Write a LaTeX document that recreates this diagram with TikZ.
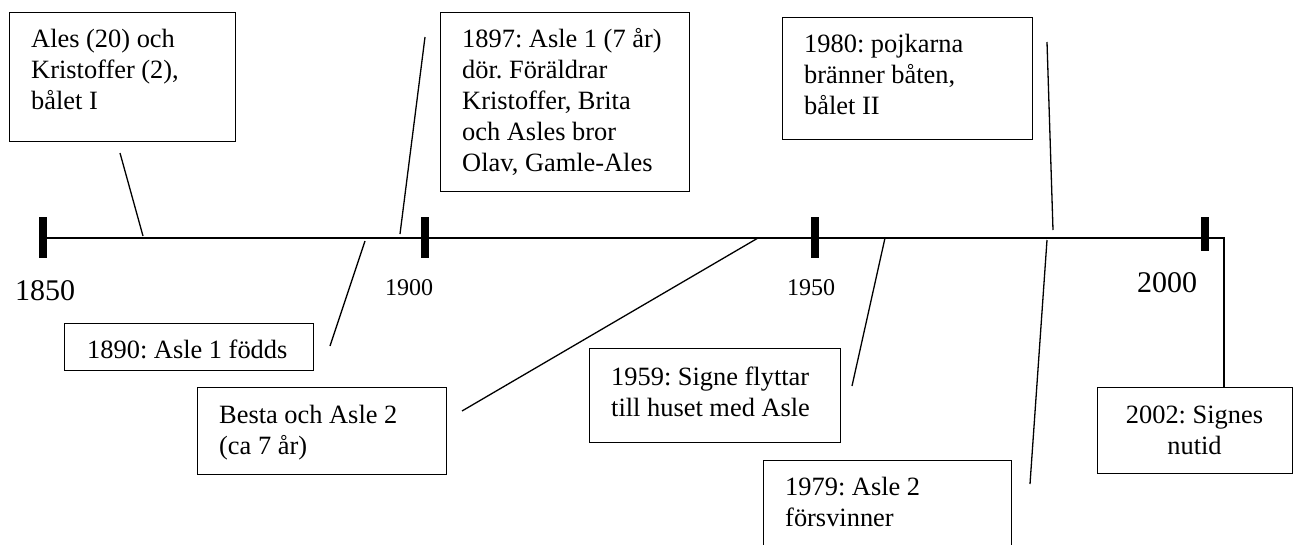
\documentclass[tikz,border=0pt]{standalone}
\usepackage{fontspec}
\setmainfont{Liberation Serif}
\frenchspacing
\begin{document}
\frenchspacing
\begin{tikzpicture}[x=1pt,y=-1pt,
  box/.style={draw, line width=1.2pt, inner sep=0pt, anchor=north west},
  txt/.style={anchor=base west, inner sep=0pt, font=\fontsize{26.4}{31}\selectfont},
  conn/.style={line width=1.3pt},
  tickmark/.style={fill=black, inner sep=0pt, minimum width=8pt, anchor=north},
  bigyear/.style={inner sep=0pt, font=\fontsize{30}{34}\selectfont},
  smallyear/.style={inner sep=0pt, font=\fontsize{24}{28}\selectfont, anchor=base}]
\useasboundingbox (0,0) rectangle (1296,544);
\clip (0,0) rectangle (1296,544);

% timeline ticks
\node[tickmark, minimum height=41pt] (k1850) at (43,217) {};
\node[tickmark, minimum height=41pt] (k1900) at (425,217) {};
\node[tickmark, minimum height=41pt] (k1950) at (815,217) {};
\node[tickmark, minimum height=34pt] (k2000) at (1205,217) {};
\coordinate (tStart) at (43,238);
\coordinate (tEnd) at (1224,238);

% year labels
\node[bigyear, anchor=base west] (y1850) at (15,300) {1850};
\node[smallyear] (y1900) at (409,295) {1900};
\node[smallyear] (y1950) at (811,295) {1950};
\node[bigyear, anchor=base west] (y2000) at (1137,292) {2000};

% boxes
\node[box, minimum width=226pt, minimum height=129pt] (bA) at (9,12) {};
\node[txt] (tA) at (31,47) {\parbox[t]{200pt}{\raggedright Ales (20) och\\Kristoffer (2),\\bålet I}};

\node[box, minimum width=249pt, minimum height=179pt] (b1897) at (440,12) {};
\node[txt] (t1897) at (462,47) {\parbox[t]{225pt}{\raggedright 1897: Asle 1 (7 år)\\dör. Föräldrar\\Kristoffer, Brita\\och Asles bror\\Olav, Gamle-Ales}};

\node[box, minimum width=250pt, minimum height=122pt] (b1980) at (782,17) {};
\node[txt] (t1980) at (804,52) {\parbox[t]{225pt}{\raggedright 1980: pojkarna\\bränner båten,\\bålet II}};

\node[box, minimum width=249pt, minimum height=47pt] (b1890) at (64,323) {};
\node[txt] (t1890) at (87,358) {1890: Asle 1 födds};

\node[box, minimum width=249pt, minimum height=87pt] (bBesta) at (197,387) {};
\node[txt] (tBesta) at (219,423) {\parbox[t]{225pt}{\raggedright Besta och Asle 2\\(ca 7 år)}};

\node[box, minimum width=251pt, minimum height=94pt] (b1959) at (589,348) {};
\node[txt] (t1959) at (611,385) {\parbox[t]{228pt}{\raggedright 1959: Signe flyttar\\till huset med Asle}};

\node[box, minimum width=248pt, minimum height=100pt] (b1979) at (763,460) {};
\node[txt] (t1979) at (785,495) {\parbox[t]{225pt}{\raggedright 1979: Asle 2\\försvinner}};

\node[box, minimum width=195pt, minimum height=86pt] (b2002) at (1097,387) {};
\node[txt, anchor=base] (t2002) at (1194.5,423) {\parbox[t]{190pt}{\centering 2002: Signes\\nutid}};

% timeline
\draw[line width=2pt] (tStart) -- (tEnd) -- (tEnd |- b2002.north);

% connectors
\coordinate (cA1) at (120,153);   \coordinate (cA2) at (143,236);
\coordinate (c97a) at (425,37);   \coordinate (c97b) at (400,234);
\coordinate (c90a) at (365,241);  \coordinate (c90b) at (330,346);
\coordinate (cBa) at (758,238);   \coordinate (cBb) at (462,411);
\coordinate (c59a) at (885,238);  \coordinate (c59b) at (852,386);
\coordinate (c80a) at (1047,42);  \coordinate (c80b) at (1053,230);
\coordinate (c79a) at (1047,240); \coordinate (c79b) at (1030,484);
\draw[conn] (cA1) -- (cA2);
\draw[conn] (c97a) -- (c97b);
\draw[conn] (c90a) -- (c90b);
\draw[conn] (cBa) -- (cBb);
\draw[conn] (c59a) -- (c59b);
\draw[conn] (c80a) -- (c80b);
\draw[conn] (c79a) -- (c79b);
\end{tikzpicture}
\end{document}
